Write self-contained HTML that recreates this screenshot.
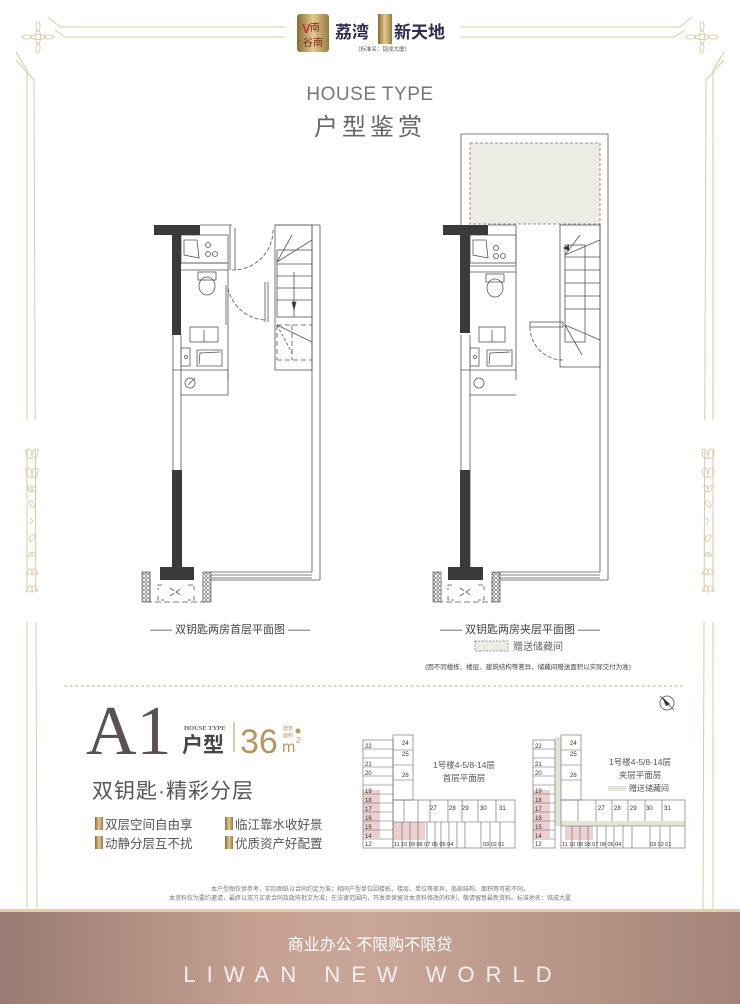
<!DOCTYPE html>
<html><head><meta charset="utf-8">
<style>
html,body{margin:0;padding:0;background:#fff;}
svg{display:block;}
text{font-family:"Liberation Sans","Noto Sans CJK SC",sans-serif;}
</style></head>
<body>
<svg width="740" height="1004" viewBox="0 0 740 1004" xmlns="http://www.w3.org/2000/svg">
<defs>
<linearGradient id="band" x1="0" x2="1" y1="0" y2="0">
<stop offset="0" stop-color="#9a7a72"/><stop offset="0.35" stop-color="#c6a192"/><stop offset="0.5" stop-color="#caa699"/><stop offset="0.75" stop-color="#b89687"/><stop offset="1" stop-color="#a4837a"/>
</linearGradient>
<linearGradient id="gold" x1="0" x2="1"><stop offset="0" stop-color="#8a6a35"/><stop offset="0.5" stop-color="#e4c98f"/><stop offset="1" stop-color="#9a7a40"/></linearGradient>
<pattern id="hatch" width="4" height="4" patternUnits="userSpaceOnUse"><rect width="4" height="4" fill="#fff"/><circle cx="2" cy="2" r="1.3" fill="none" stroke="#444" stroke-width="0.6"/></pattern>
</defs>

<!-- frame -->
<g stroke="#dcc9a4" stroke-width="1" fill="none">
<line x1="60" y1="27" x2="285" y2="27"/><line x1="65" y1="37" x2="285" y2="37"/>
<line x1="460" y1="27" x2="680" y2="27"/><line x1="460" y1="37" x2="675" y2="37"/>
<polyline points="60,27 48,17"/><polyline points="65,37 55,30"/>
<polyline points="680,27 692,17"/><polyline points="675,37 685,30"/>
<polyline points="16,52 27,70 27,910"/><polyline points="16,60 34,80 37,910"/>
<polyline points="724,52 713,70 713,910"/><polyline points="724,60 706,80 703,910"/>
</g>
<g stroke="#d8c49c" stroke-width="0.8" fill="none">
<ellipse cx="38" cy="37" rx="2.5" ry="7"/><ellipse cx="38" cy="37" rx="7" ry="2.5"/>
<ellipse cx="38" cy="26" rx="2" ry="5"/><ellipse cx="38" cy="48" rx="2" ry="5"/><ellipse cx="27" cy="37" rx="5" ry="2"/><ellipse cx="49" cy="37" rx="5" ry="2"/>
<ellipse cx="702" cy="37" rx="2.5" ry="7"/><ellipse cx="702" cy="37" rx="7" ry="2.5"/>
<ellipse cx="702" cy="26" rx="2" ry="5"/><ellipse cx="702" cy="48" rx="2" ry="5"/><ellipse cx="691" cy="37" rx="5" ry="2"/><ellipse cx="713" cy="37" rx="5" ry="2"/>
</g>
<g fill="#fff">
<rect x="20" y="420" width="22" height="30"/><rect x="20" y="592" width="22" height="30"/>
<rect x="698" y="420" width="22" height="30"/><rect x="698" y="592" width="22" height="30"/>
</g>
<g stroke="#d8c49c" stroke-width="0.8" fill="none">
<g id="orn">
<path d="M26 450 Q32 446 32 458 Q26 460 26 450Z M38 450 Q32 446 32 458 Q38 460 38 450Z"/>
<path d="M26 469 Q32 465 32 477 Q26 479 26 469Z M38 469 Q32 465 32 477 Q38 479 38 469Z"/>
<path d="M28 486 Q32 484 32 492 Q28 492 28 486Z M36 486 Q32 484 32 492 Q36 492 36 486Z"/>
<ellipse cx="32" cy="504" rx="2" ry="4" transform="rotate(-40 32 504)"/>
<path d="M30 518 L33 521 L30 524"/>
<ellipse cx="32" cy="538" rx="2" ry="4" transform="rotate(40 32 538)"/>
<path d="M28 556 Q32 548 32 556 Q32 548 36 556Z"/>
<path d="M26 574 Q32 562 32 576 Q32 562 38 574Z"/>
<path d="M26 591 Q32 579 32 593 Q32 579 38 591Z"/>
</g>
<use href="#orn" transform="translate(676,0)"/>
</g>

<!-- logo -->
<rect x="297" y="14" width="32" height="38" rx="3" fill="url(#gold)"/>
<text x="302" y="33" font-size="13" fill="#c0392b" font-weight="bold">V</text>
<text x="310" y="31" font-size="10" fill="#7a2a20">南</text>
<text x="303" y="46" font-size="10" fill="#7a2a20">谷南</text>
<text x="335" y="38" font-size="17" font-weight="bold" fill="#2c2c4c">荔湾</text>
<rect x="378" y="14" width="14" height="30" fill="url(#gold)"/>
<text x="394" y="38" font-size="17" font-weight="bold" fill="#2c2c4c">新天地</text>
<text x="355" y="51" font-size="5.5" fill="#555">（标准名：铭成大厦）</text>

<text x="370" y="100" text-anchor="middle" font-size="19" fill="#777" letter-spacing="0.5">HOUSE TYPE</text>
<text x="370" y="135" text-anchor="middle" font-size="24" fill="#666" letter-spacing="4">户型鉴赏</text>

<!-- LEFT PLAN -->
<g stroke="#555" stroke-width="0.8" fill="none">
<line x1="173" y1="335" x2="173" y2="572"/><line x1="181" y1="335" x2="181" y2="572"/>
<line x1="312" y1="225" x2="312" y2="572"/><line x1="320" y1="225" x2="320" y2="580"/>
<line x1="275" y1="225" x2="320" y2="225"/>
<line x1="200" y1="225" x2="232" y2="225"/><line x1="230" y1="225" x2="230" y2="270"/><line x1="235" y1="228" x2="235" y2="270"/>
<rect x="181" y="235" width="47" height="28"/><path d="M184 240 L197 240 L199 258 L184 255Z"/>
<circle cx="208" cy="245" r="2.5"/><circle cx="208" cy="254" r="2.5"/><circle cx="215" cy="254" r="2.5"/>
<line x1="181" y1="263" x2="228" y2="263"/><line x1="181" y1="270" x2="228" y2="270"/>
<line x1="228" y1="263" x2="228" y2="380"/><line x1="226" y1="285" x2="226" y2="325"/>
<rect x="198" y="272" width="18" height="8"/><ellipse cx="207" cy="286" rx="8" ry="9"/>
<rect x="190" y="327" width="28" height="15"/><line x1="204" y1="330" x2="204" y2="342"/>
<rect x="181" y="348" width="9" height="18"/><circle cx="186" cy="357" r="1.5"/><path d="M197 350 L222 350 L222 366 L197 366Z M199 364 L200 353 L220 352"/>
<line x1="173" y1="370" x2="228" y2="370"/><line x1="181" y1="395" x2="228" y2="395"/><line x1="228" y1="370" x2="228" y2="395"/>
<circle cx="190" cy="383" r="5"/><line x1="188" y1="385" x2="195" y2="378"/>
<path d="M232 270 A40 40 0 0 0 273 229" stroke-dasharray="4 2"/>
<path d="M228 288 A40 40 0 0 0 265 320" stroke-dasharray="4 2"/>
<line x1="265" y1="282" x2="265" y2="322"/><line x1="268" y1="282" x2="268" y2="322"/>
<rect x="275" y="225" width="37" height="145"/>
<rect x="277" y="250" width="35" height="67"/>
<line x1="277" y1="264" x2="312" y2="264"/><line x1="277" y1="276" x2="312" y2="276"/><line x1="277" y1="288" x2="312" y2="288"/><line x1="277" y1="300" x2="312" y2="300"/>
<line x1="277" y1="262" x2="292" y2="235"/><line x1="277" y1="262" x2="312" y2="240"/>
<line x1="294" y1="272" x2="294" y2="317"/><polygon points="292,302 296,302 294,310" fill="#333"/>
<path d="M277 325 L312 325 M277 360 L312 360 M277 325 L277 360 M292 325 L292 360" stroke-dasharray="5 3"/>
<line x1="277" y1="325" x2="293" y2="355" stroke-dasharray="3 2"/><line x1="277" y1="325" x2="312" y2="342"/>
<line x1="211" y1="572" x2="312" y2="572"/><line x1="211" y1="575" x2="312" y2="575"/><line x1="211" y1="578" x2="312" y2="578"/><line x1="211" y1="580" x2="320" y2="580"/>
<path d="M150 580 L150 602 L203 602 L203 580" stroke-dasharray="6 3"/>
<path d="M162 585 L158 585 L158 590 M188 585 L194 585 L194 590 M158 596 L158 600 L164 600 M194 596 L194 600 L188 600 M170 588 L182 596 M170 596 L182 588" stroke-dasharray="5 2"/>
</g>
<rect x="142" y="572" width="8" height="30" fill="url(#hatch)" stroke="#444" stroke-width="0.6"/>
<rect x="203" y="572" width="8" height="30" fill="url(#hatch)" stroke="#444" stroke-width="0.6"/>
<g fill="#3a3a3a">
<rect x="154" y="225" width="46" height="10"/><rect x="172" y="225" width="9" height="110"/>
<rect x="172" y="470" width="10" height="100"/><rect x="160" y="567" width="34" height="13"/>
</g>
<text x="230" y="633" text-anchor="middle" font-size="11" fill="#444">—— 双钥匙两房首层平面图 ——</text>

<!-- RIGHT PLAN -->
<g stroke="#555" stroke-width="0.8" fill="none">
<line x1="461" y1="134" x2="461" y2="225"/><line x1="461" y1="134" x2="608" y2="134"/><line x1="608" y1="134" x2="608" y2="580"/><line x1="600" y1="224" x2="600" y2="572"/>
<line x1="461" y1="335" x2="461" y2="572"/><line x1="470" y1="335" x2="470" y2="572"/>
<rect x="470" y="143" width="130" height="81" fill="#ecece4" stroke="#777" stroke-dasharray="3 2"/>
<line x1="488" y1="225" x2="516" y2="225"/><line x1="516" y1="225" x2="516" y2="380"/>
<rect x="470" y="235" width="46" height="28"/><path d="M473 240 L486 240 L488 258 L473 255Z"/>
<circle cx="496" cy="248" r="2.5"/><circle cx="496" cy="256" r="2.5"/><circle cx="503" cy="256" r="2.5"/>
<line x1="470" y1="266" x2="516" y2="266"/><line x1="470" y1="272" x2="516" y2="272"/>
<rect x="486" y="274" width="18" height="8"/><ellipse cx="495" cy="288" rx="8" ry="9"/>
<rect x="479" y="327" width="26" height="15"/><line x1="492" y1="330" x2="492" y2="342"/>
<rect x="470" y="348" width="9" height="18"/><circle cx="475" cy="357" r="1.5"/><path d="M487 350 L512 350 L512 366 L487 366Z M489 364 L490 353 L510 352"/>
<line x1="461" y1="370" x2="516" y2="370"/><line x1="470" y1="395" x2="516" y2="395"/>
<circle cx="479" cy="383" r="5"/>
<rect x="560" y="225" width="40" height="142"/>
<rect x="565" y="245" width="20" height="97"/>
<line x1="565" y1="257" x2="600" y2="257"/><line x1="565" y1="270" x2="600" y2="270"/><line x1="565" y1="283" x2="600" y2="283"/><line x1="565" y1="296" x2="600" y2="296"/><line x1="565" y1="309" x2="600" y2="309"/>
<line x1="565" y1="255" x2="580" y2="235"/><line x1="565" y1="255" x2="600" y2="240"/>
<line x1="565" y1="325" x2="582" y2="355"/><line x1="565" y1="325" x2="600" y2="340"/>
<rect x="530" y="322" width="33" height="5"/>
<path d="M530 327 A33 33 0 0 0 563 360" stroke-dasharray="4 2"/>
<line x1="500" y1="572" x2="600" y2="572"/><line x1="500" y1="575" x2="600" y2="575"/><line x1="500" y1="578" x2="600" y2="578"/><line x1="500" y1="580" x2="608" y2="580"/>
<path d="M441 580 L441 602 L492 602 L492 580" stroke-dasharray="6 3"/>
<path d="M452 585 L448 585 L448 590 M478 585 L484 585 L484 590 M448 596 L448 600 L454 600 M484 596 L484 600 L478 600 M460 588 L472 596 M460 596 L472 588" stroke-dasharray="5 2"/>
</g>
<polygon points="563,248 569,245 569,251" fill="#333"/>
<rect x="433" y="572" width="8" height="30" fill="url(#hatch)" stroke="#444" stroke-width="0.6"/>
<rect x="492" y="572" width="8" height="30" fill="url(#hatch)" stroke="#444" stroke-width="0.6"/>
<g fill="#3a3a3a">
<rect x="443" y="225" width="45" height="10"/><rect x="460" y="225" width="10" height="108"/>
<rect x="460" y="470" width="10" height="100"/><rect x="448" y="567" width="35" height="13"/>
</g>
<text x="520" y="633" text-anchor="middle" font-size="11" fill="#444">—— 双钥匙两房夹层平面图 ——</text>
<rect x="475" y="641" width="33" height="10" fill="#ecece4" stroke="#777" stroke-width="0.7" stroke-dasharray="2 1.5"/>
<text x="513" y="650" font-size="10" fill="#666">赠送储藏间</text>
<text x="528" y="669" text-anchor="middle" font-size="6.5" fill="#444">(因不同楼栋、楼层、建筑结构等差异，储藏间赠送面积以实际交付为准)</text>

<g stroke="#555" fill="none" stroke-width="0.8"><circle cx="667" cy="703" r="7"/><line x1="660" y1="696" x2="674" y2="710"/></g>
<polygon points="662,697 670,704 666,706" fill="#333"/>

<line x1="65" y1="686" x2="682" y2="686" stroke="#d9c499" stroke-width="1.5" stroke-dasharray="1.5 4" stroke-linecap="round"/>

<!-- A1 -->
<text x="86" y="754" style="font-family:'Liberation Serif',serif" font-size="70" fill="#5a5250">A1</text>
<text x="184" y="730" style="font-family:'Liberation Serif',serif" font-size="6.5" font-weight="bold" fill="#666">HOUSE TYPE</text>
<text x="182" y="752" font-size="21" font-weight="bold" fill="#4a4444">户型</text>
<line x1="234" y1="722" x2="234" y2="752" stroke="#b8955a" stroke-width="1"/>
<text x="240" y="753" font-size="34" fill="#b8955a">36</text>
<text x="283" y="730" font-size="5" fill="#b8955a">建筑</text><text x="283" y="737" font-size="5" fill="#b8955a">面积</text>
<circle cx="298" cy="731" r="2.5" fill="#b8955a"/>
<text x="282" y="752" font-size="16" fill="#b8955a">m</text><text x="296" y="743" font-size="8" fill="#b8955a">2</text>
<text x="92" y="798" font-size="21" fill="#555" letter-spacing="1">双钥匙·精彩分层</text>
<g fill="url(#gold)">
<rect x="95" y="817" width="8" height="13"/><rect x="95" y="836" width="8" height="13"/>
<rect x="225" y="817" width="8" height="13"/><rect x="225" y="836" width="8" height="13"/>
</g>
<g font-size="12.5" fill="#555">
<text x="105" y="829">双层空间自由享</text><text x="105" y="848">动静分层互不扰</text>
<text x="235" y="829">临江靠水收好景</text><text x="235" y="848">优质资产好配置</text>
</g>

<!-- key plan left -->
<g stroke="#666" stroke-width="0.6" fill="none">
<rect x="363" y="790" width="17" height="48" fill="#eccfd0" stroke="none"/>
<rect x="393" y="822" width="32" height="18" fill="#eccfd0" stroke="none"/>
<rect x="363" y="740" width="30" height="108"/>
<path d="M363 749 H393 M363 758 H393 M363 767 H393 M363 776 H393 M363 785 H393 M363 794 H393 M363 803 H393 M363 812 H393 M363 821 H393 M363 830 H393 M363 839 H393"/>
<rect x="393" y="735" width="20" height="65"/>
<path d="M393 750 H413 M393 765 H413 M393 780 H413"/>
<rect x="393" y="800" width="122" height="48"/>
<path d="M393 822 H515 M404 800 V822 M418 800 V822 M430 800 V822 M448 800 V822 M462 800 V822 M478 800 V822 M496 800 V822 M402 822 V848 M410 822 V848 M418 822 V848 M427 822 V848 M435 822 V848 M441 822 V848 M449 822 V848 M457 822 V848 M465 822 V848 M481 822 V848 M490 822 V848 M500 822 V848"/>
</g>
<g font-size="6" fill="#333">
<text x="365" y="748">22</text><text x="365" y="766">21</text><text x="365" y="775">20</text><text x="365" y="793">19</text><text x="365" y="802">18</text><text x="365" y="811">17</text><text x="365" y="820">16</text><text x="365" y="829">15</text><text x="365" y="838">14</text><text x="365" y="846">12</text>
<text x="402" y="745">24</text><text x="402" y="756">25</text><text x="402" y="777">26</text>
<text x="430" y="810">27</text><text x="449" y="810">28</text><text x="462" y="810">29</text><text x="480" y="810">30</text><text x="499" y="810">31</text>
<text x="394" y="846" font-size="5.5">11 10 09 08 07 06 05 04</text><text x="483" y="846" font-size="5.5">03 02 01</text>
</g>
<text x="464" y="768" text-anchor="middle" font-size="8.5" fill="#555">1号楼4-5/8-14层</text>
<text x="464" y="781" text-anchor="middle" font-size="8.5" fill="#555">首层平面层</text>

<!-- key plan right -->
<g stroke="#666" stroke-width="0.6" fill="none">
<rect x="555" y="737" width="6" height="84" fill="#e3e6d6" stroke="none"/>
<rect x="555" y="821" width="130" height="5" fill="#e3e6d6" stroke="none"/>
<rect x="533" y="790" width="17" height="48" fill="#eccfd0" stroke="none"/>
<rect x="565" y="826" width="28" height="14" fill="#eccfd0" stroke="none"/>
<rect x="533" y="740" width="22" height="108"/>
<path d="M533 749 H555 M533 758 H555 M533 767 H555 M533 776 H555 M533 785 H555 M533 794 H555 M533 803 H555 M533 812 H555 M533 821 H555 M533 830 H555 M533 839 H555"/>
<rect x="561" y="735" width="20" height="65"/>
<path d="M561 750 H581 M561 765 H581 M561 780 H581"/>
<rect x="561" y="800" width="124" height="48"/>
<path d="M561 826 H685 M578 800 V821 M596 800 V821 M612 800 V821 M628 800 V821 M645 800 V821 M662 800 V821 M572 826 V848 M580 826 V848 M588 826 V848 M597 826 V848 M606 826 V848 M614 826 V848 M623 826 V848 M632 826 V848 M650 826 V848 M660 826 V848 M670 826 V848"/>
</g>
<g font-size="6" fill="#333">
<text x="535" y="748">22</text><text x="535" y="766">21</text><text x="535" y="775">20</text><text x="535" y="793">19</text><text x="535" y="802">18</text><text x="535" y="811">17</text><text x="535" y="820">16</text><text x="535" y="829">15</text><text x="535" y="838">14</text><text x="535" y="846">12</text>
<text x="570" y="745">24</text><text x="570" y="756">25</text><text x="570" y="777">26</text>
<text x="598" y="810">27</text><text x="614" y="810">28</text><text x="630" y="810">29</text><text x="646" y="810">30</text><text x="664" y="810">31</text>
<text x="562" y="846" font-size="5.5">11 10 09 08 07 06 05 04</text><text x="650" y="846" font-size="5.5">03 02 01</text>
</g>
<text x="640" y="765" text-anchor="middle" font-size="8.5" fill="#555">1号楼4-5/8-14层</text>
<text x="640" y="778" text-anchor="middle" font-size="8.5" fill="#555">夹层平面层</text>
<rect x="608" y="786" width="18" height="5" fill="#e3e6d6"/>
<text x="629" y="791" font-size="8" fill="#555">赠送储藏间</text>

<text x="370" y="891" text-anchor="middle" font-size="6" fill="#777">本户型图仅供参考，实际图纸以合同约定为准；相同户型单位因楼栋、楼层、单位等差异，局部结构、面积等可能不同。</text>
<text x="370" y="900" text-anchor="middle" font-size="6" fill="#777">本资料仅为要约邀请，最终以双方买卖合同及政府批文为准；在法律范围内，开发商保留对本资料修改的权利，敬请留意最新资料。标准地名：铭成大厦</text>

<rect x="0" y="910" width="740" height="94" fill="url(#band)"/>
<rect x="0" y="909" width="740" height="3" fill="#e8cfa8"/>
<text x="370" y="950" text-anchor="middle" font-size="16" fill="#fff">商业办公  不限购不限贷</text>
<text x="373" y="982" text-anchor="middle" font-size="22" fill="#fff" letter-spacing="11" opacity="0.85">LIWAN NEW WORLD</text>
</svg>
</body></html>
